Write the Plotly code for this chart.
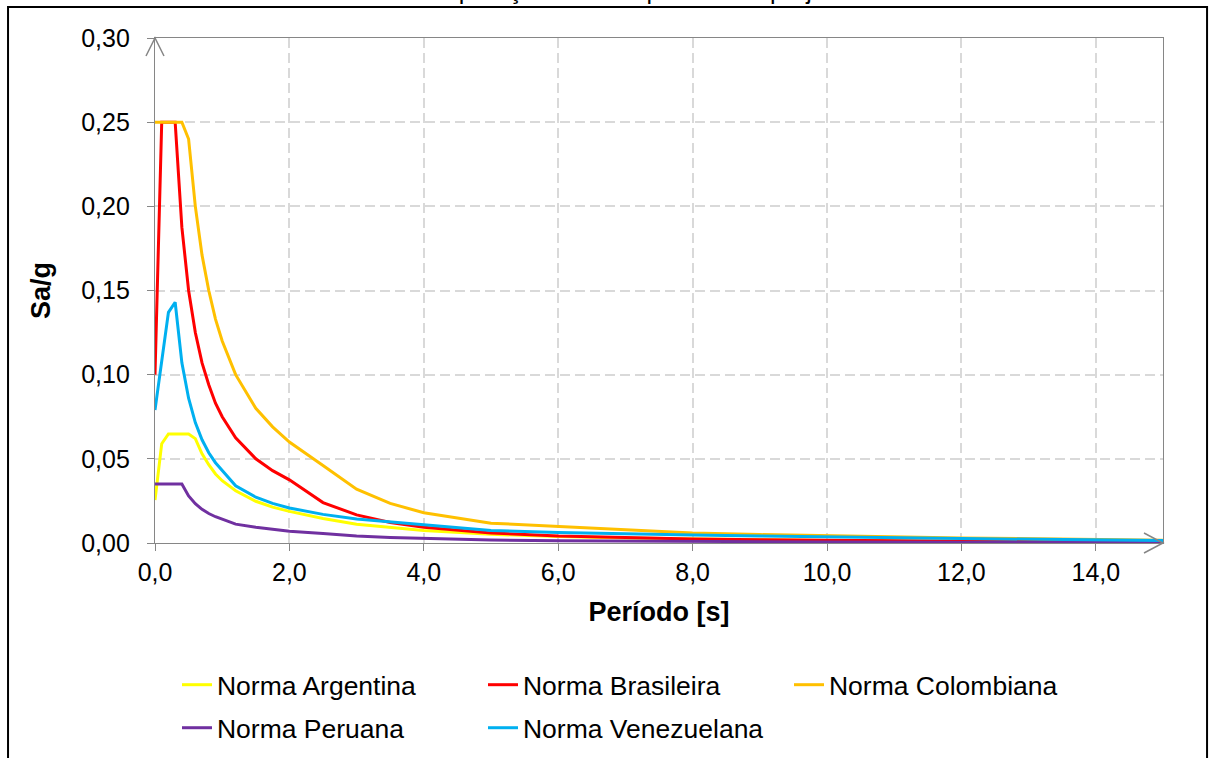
import plotly.graph_objects as go

# Period grid (s) shared by all design spectra
periodo = [0, 0.1, 0.2, 0.3, 0.4, 0.5, 0.6, 0.7, 0.8, 0.9, 1.0, 1.2, 1.5, 1.75,
           2.0, 2.5, 3.0, 3.5, 4.0, 5.0, 6.0, 7.0, 8.0, 9.0, 10.0, 12.0, 15.0]

# Spectral acceleration Sa/g for each code
sa_argentina = [0.0255, 0.059, 0.0648, 0.0648, 0.0648, 0.0648, 0.062, 0.053, 0.0465,
                0.041, 0.037, 0.031, 0.0248, 0.0213, 0.0188, 0.0145, 0.0112, 0.0092,
                0.0075, 0.0052, 0.0038, 0.0029, 0.0023, 0.0019, 0.0015, 0.0011, 0.0007]
sa_brasileira = [0.10, 0.25, 0.25, 0.25, 0.1875, 0.15, 0.125, 0.107, 0.094, 0.083,
                 0.075, 0.0625, 0.05, 0.043, 0.0375, 0.024, 0.0167, 0.0122, 0.0094,
                 0.006, 0.0042, 0.0031, 0.0024, 0.0019, 0.0015, 0.001, 0.0007]
sa_colombiana = [0.25, 0.25, 0.25, 0.25, 0.25, 0.24, 0.20, 0.171, 0.15, 0.133, 0.12,
                 0.10, 0.08, 0.069, 0.06, 0.046, 0.032, 0.0235, 0.018, 0.0118, 0.0098,
                 0.0078, 0.006, 0.005, 0.0043, 0.003, 0.0017]
sa_peruana = [0.035, 0.035, 0.035, 0.035, 0.035, 0.028, 0.0233, 0.02, 0.0175, 0.0156,
              0.014, 0.0112, 0.0093, 0.008, 0.007, 0.0056, 0.0042, 0.0033, 0.0027,
              0.0018, 0.0014, 0.0011, 0.0009, 0.0007, 0.0006, 0.0004, 0.0003]
sa_venezuelana = [0.079, 0.108, 0.137, 0.143, 0.107, 0.086, 0.0715, 0.0613, 0.0536,
                  0.0477, 0.043, 0.034, 0.0272, 0.0235, 0.0208, 0.017, 0.0143, 0.0125,
                  0.0107, 0.0075, 0.0063, 0.0054, 0.0047, 0.0042, 0.0036, 0.0026, 0.0015]

nomes = ["Norma Argentina", "Norma Brasileira", "Norma Colombiana",
         "Norma Peruana", "Norma Venezuelana"]
cores = ["#FFFF00", "#FF0000", "#FFC000", "#7030A0", "#00B0F0"]
valores = [sa_argentina, sa_brasileira, sa_colombiana, sa_peruana, sa_venezuelana]
# legend row of each series (three entries on the first row, two on the second)
linhas_legenda = ["legend", "legend", "legend", "legend2", "legend2"]

FONT = "Liberation Sans, Arial, sans-serif"
AXIS_GRAY = "#868686"
GRID_GRAY = "#D9D9D9"

fig = go.Figure()
for nome, cor, sa, leg in zip(nomes, cores, valores, linhas_legenda):
    fig.add_trace(go.Scatter(x=periodo, y=sa, mode="lines", name=nome, legend=leg,
                             line=dict(color=cor, width=3)))

axis_common = dict(
    showline=True, linecolor=AXIS_GRAY, linewidth=1.25, mirror=True,
    ticks="outside", ticklen=7, tickwidth=1.25, tickcolor=AXIS_GRAY,
    showgrid=True, gridcolor=GRID_GRAY, gridwidth=1.5, griddash="10px,5px",
    zeroline=False, tickfont=dict(family=FONT, size=25, color="black"),
)

legend_common = dict(orientation="h", xanchor="left", yanchor="top",
                     entrywidth=261, entrywidthmode="pixels",
                     font=dict(family=FONT, size=26.5, color="black"),
                     bgcolor="rgba(0,0,0,0)", traceorder="normal")

fig.update_layout(
    width=1216, height=758,
    margin=dict(l=155, r=53, t=38, b=215, autoexpand=False),
    paper_bgcolor="white", plot_bgcolor="white",
    separators=", ",
    font=dict(family=FONT, size=25, color="black"),
    xaxis=dict(range=[0, 15], tick0=0, dtick=2, tickformat=".1f",
               title=dict(text="<b>Período [s]</b>", standoff=16,
                          font=dict(family=FONT, size=27, color="black")),
               **axis_common),
    yaxis=dict(range=[0, 0.30], tick0=0, dtick=0.05, tickformat=".2f",
               ticklabelstandoff=12,
               title=dict(text="<b>Sa/g</b>", standoff=22,
                          font=dict(family=FONT, size=27, color="black")),
               **axis_common),
    legend=dict(x=0.0218, y=-0.2336, **legend_common),
    legend2=dict(x=0.0218, y=-0.3188, **legend_common),
    showlegend=True,
)

# Open arrowheads at the ends of both axes
fig.add_shape(type="path", xref="paper", yref="paper", xsizemode="pixel", ysizemode="pixel",
              xanchor=0, yanchor=1, path="M-9,-18 L0,0 L9,-18",
              line=dict(color=AXIS_GRAY, width=1.5))
fig.add_shape(type="path", xref="paper", yref="paper", xsizemode="pixel", ysizemode="pixel",
              xanchor=1, yanchor=0, path="M-19,10 L0,0 L-19,-10",
              line=dict(color=AXIS_GRAY, width=1.5))

# Chart frame
fig.add_shape(type="rect", xref="paper", yref="paper",
              x0=-0.1458, x1=1.0437, y0=-0.47, y1=1.0614,
              line=dict(color="black", width=2), layer="below")

# Chart title
fig.add_annotation(text="Comparação entre espectros de projeto",
                   xref="paper", yref="paper", x=0.468, y=1.0634,
                   xanchor="center", yanchor="bottom", showarrow=False,
                   font=dict(family=FONT, size=25, color="black"))

fig.write_html("out.html")
